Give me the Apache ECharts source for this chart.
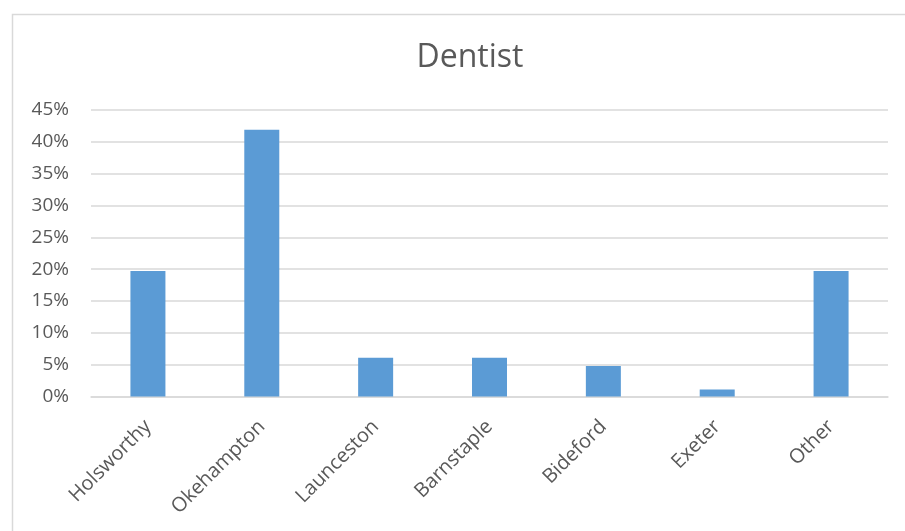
<!DOCTYPE html>
<html>
<head>
<meta charset="utf-8">
<script src="https://cdn.jsdelivr.net/npm/echarts@6/dist/echarts.min.js"></script>
<style>html,body{margin:0;padding:0;background:#fff;}#c{width:905px;height:531px;}</style>
</head>
<body>
<div id="c"></div>
<script>
const categories = ['Holsworthy', 'Okehampton', 'Launceston', 'Barnstaple', 'Bideford', 'Exeter', 'Other'];
const values = [19.7, 41.9, 6.1, 6.1, 4.8, 1.1, 19.7];
const yTicks = { min: 0, max: 45, interval: 5 };

const chart = echarts.init(document.getElementById('c'), null, { renderer: 'canvas' });
const font = '"Open Sans", "Noto Sans", sans-serif';
chart.setOption({
  animation: false,
  backgroundColor: '#fff',
  graphic: [{
    type: 'rect', left: 10, top: 12,
    shape: { width: 920, height: 540 },
    style: { fill: 'none', stroke: '#d9d9d9', lineWidth: 1.5 },
    silent: true
  }],
  title: {
    text: 'Dentist', left: 465, top: 37, textAlign: 'center',
    textStyle: { fontFamily: font, fontSize: 32, fontWeight: 'normal', color: '#595959' }
  },
  grid: { left: 91, right: 17, top: 110, bottom: 134.5, containLabel: false },
  xAxis: {
    type: 'category', data: categories,
    axisLine: { lineStyle: { color: '#d9d9d9', width: 1.5 } },
    axisTick: { show: false },
    axisLabel: { rotate: 45, fontFamily: font, fontSize: 20, color: '#595959', margin: 27, interval: 0 }
  },
  yAxis: {
    type: 'value', min: yTicks.min, max: yTicks.max, interval: yTicks.interval,
    axisLine: { show: false }, axisTick: { show: false },
    splitLine: { lineStyle: { color: '#d9d9d9', width: 1.5 } },
    axisLabel: { formatter: '{value}%', fontFamily: font, fontSize: 19, color: '#595959', margin: 22 }
  },
  series: [{
    type: 'bar', data: values, barWidth: 35,
    itemStyle: { color: '#5b9bd5' }
  }]
});
</script>
</body>
</html>
